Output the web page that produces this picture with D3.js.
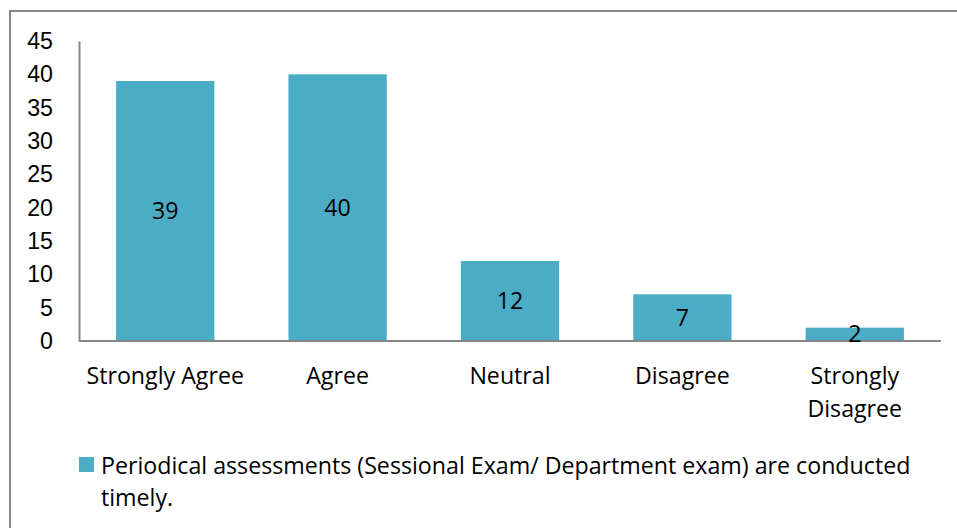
<!DOCTYPE html>
<html>
<head>
<meta charset="utf-8">
<script src="https://cdn.jsdelivr.net/npm/d3@7"></script>
<style>
  html, body { margin: 0; padding: 0; background: #fff; }
  svg { display: block; font-family: "Open Sans", "Noto Sans", sans-serif; }
</style>
</head>
<body>
<svg id="chart" width="957" height="528"></svg>
<script>
// ── Data ───────────────────────────────────────────────────────────────────
const categories = ['Strongly Agree', 'Agree', 'Neutral', 'Disagree', 'Strongly Disagree'];
const catLines   = [['Strongly Agree'], ['Agree'], ['Neutral'], ['Disagree'], ['Strongly', 'Disagree']];
const values     = [39, 40, 12, 7, 2];
const yTicks     = [0, 5, 10, 15, 20, 25, 30, 35, 40, 45];
const seriesName = ['Periodical assessments (Sessional Exam/ Department exam) are conducted', 'timely.'];

// ── Layout ─────────────────────────────────────────────────────────────────
const BAR = '#4bacc6';
const AXIS = '#868686';
const FS = 23.2;
const plot = { left: 79, right: 941, top: 41, bottom: 341 };

const svg = d3.select('#chart');

// outer frame (only top and left are visible in the crop)
svg.append('path')
  .attr('d', 'M10,528 L10,11 L957,11')
  .attr('fill', 'none')
  .attr('stroke', '#898989')
  .attr('stroke-width', 2);

const x = d3.scaleBand()
  .domain(categories)
  .range([plot.left, plot.right])
  .paddingInner(0.43)
  .paddingOuter(0.215);

const y = d3.scaleLinear()
  .domain([0, 45])
  .range([plot.bottom, plot.top]);

// ── Bars ───────────────────────────────────────────────────────────────────
svg.append('g').selectAll('rect')
  .data(values)
  .join('rect')
  .attr('x', (d, i) => x(categories[i]))
  .attr('y', d => y(d))
  .attr('width', x.bandwidth())
  .attr('height', d => y(0) - y(d))
  .attr('fill', BAR);

// ── Axes ───────────────────────────────────────────────────────────────────
const yAxis = svg.append('g')
  .attr('transform', `translate(${plot.left},0)`)
  .call(d3.axisLeft(y).tickValues(yTicks).tickSize(0).tickPadding(26));
yAxis.select('.domain').attr('stroke', AXIS).attr('stroke-width', 2);
yAxis.selectAll('text').attr('font-size', FS).attr('fill', '#000')
  .attr('font-family', 'inherit');

svg.append('line')
  .attr('x1', plot.left).attr('x2', plot.right)
  .attr('y1', y(0)).attr('y2', y(0))
  .attr('stroke', AXIS).attr('stroke-width', 2);

// category labels
const catG = svg.append('g').attr('font-size', FS).attr('text-anchor', 'middle');
catG.selectAll('text')
  .data(categories)
  .join('text')
  .attr('x', d => x(d) + x.bandwidth() / 2)
  .attr('y', y(0) + 43)
  .each(function(d, i) {
    d3.select(this).selectAll('tspan')
      .data(catLines[i])
      .join('tspan')
      .attr('x', x(d) + x.bandwidth() / 2)
      .attr('dy', (t, j) => j === 0 ? 0 : 33)
      .text(t => t);
  });

// value labels
svg.append('g').attr('font-size', FS).attr('text-anchor', 'middle')
  .selectAll('text')
  .data(values)
  .join('text')
  .attr('x', (d, i) => x(categories[i]) + x.bandwidth() / 2)
  .attr('y', d => (y(d) + y(0)) / 2)
  .attr('dy', '0.35em')
  .text(d => d);

// ── Legend ─────────────────────────────────────────────────────────────────
svg.append('rect')
  .attr('x', 79).attr('y', 457).attr('width', 15).attr('height', 15)
  .attr('fill', BAR);

svg.append('g').attr('font-size', FS)
  .selectAll('text')
  .data(seriesName)
  .join('text')
  .attr('x', 101)
  .attr('y', (d, i) => 474 + i * 32)
  .text(d => d);
</script>
</body>
</html>
